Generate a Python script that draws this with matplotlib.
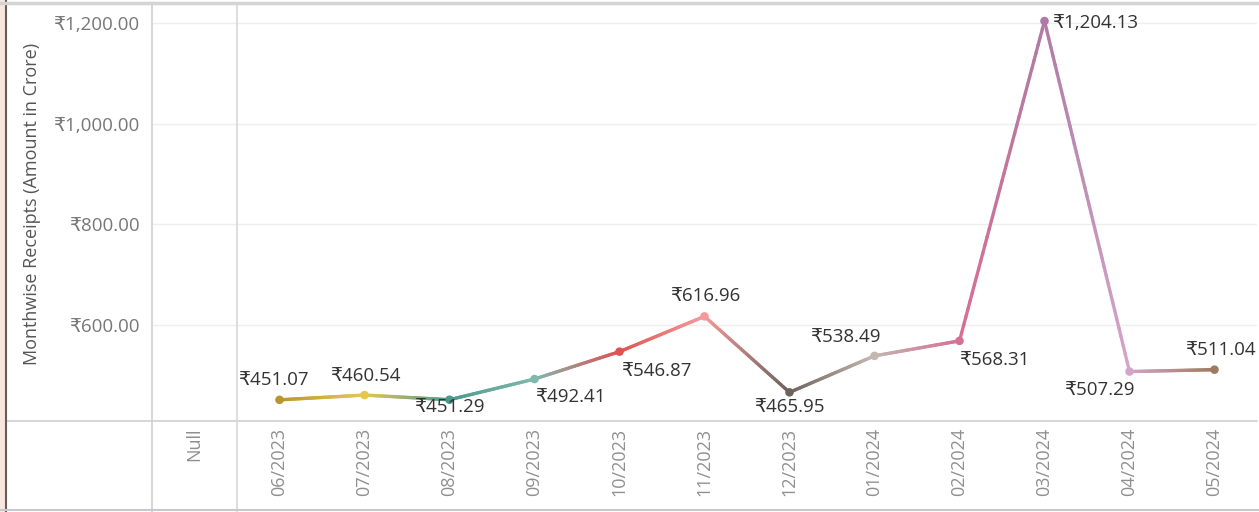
import matplotlib
matplotlib.use("Agg")
from matplotlib import pyplot as plt
from matplotlib.collections import LineCollection
from matplotlib.colors import to_rgb
from matplotlib.lines import Line2D
from matplotlib.patches import Rectangle
import numpy as np

plt.rcParams['font.family'] = ['Open Sans', 'DejaVu Sans']

months = ['06/2023', '07/2023', '08/2023', '09/2023', '10/2023', '11/2023',
          '12/2023', '01/2024', '02/2024', '03/2024', '04/2024', '05/2024']
receipts = [451.07, 460.54, 451.29, 492.41, 546.87, 616.96,
            465.95, 538.49, 568.31, 1204.13, 507.29, 511.04]
colors = ['#b8962e', '#e8c654', '#4a9a8c', '#7fb9ad', '#e05252', '#f59a9a',
          '#6e625c', '#c3b7b0', '#d86f94', '#b07aa6', '#d4a5c9', '#a07a5c']
# label offsets in pixels (dx, dy) and horizontal alignment
offsets = [(-6, 20), (1, 19), (0, -7), (1, -18), (2, -19), (1, 20),
           (0, -15), (-29, 19), (0, -19), (8, -2), (-30, -18), (6, 20)]
aligns = ['center', 'center', 'center', 'left', 'left', 'center',
          'center', 'center', 'left', 'left', 'center', 'center']

fig = plt.figure(figsize=(12.59, 5.12), dpi=100)
ax = fig.add_axes([152/1259, 91/512, 1105/1259, 418/512])

x = np.arange(1, len(months) + 1)
y = np.array(receipts)

# gradient line between neighbouring points
segs = []
cols = []
n = 40
for i in range(len(x) - 1):
    c0 = np.array(to_rgb(colors[i]))
    c1 = np.array(to_rgb(colors[i + 1]))
    xs = np.linspace(x[i], x[i + 1], n + 1)
    ys = np.linspace(y[i], y[i + 1], n + 1)
    for k in range(n):
        segs.append([(xs[k], ys[k]), (xs[k + 1], ys[k + 1])])
        t = (k + 0.5) / n
        cols.append(c0 * (1 - t) + c1 * t)
lc = LineCollection(segs, colors=cols, linewidths=2.4, capstyle='round', zorder=3)
ax.add_collection(lc)
ax.scatter(x, y, s=38, c=colors, zorder=4, linewidths=0)

for xi, yi, (dx, dy), ha in zip(x, y, offsets, aligns):
    ax.annotate('₹{:,.2f}'.format(yi), (xi, yi), xytext=(dx, dy),
                textcoords='offset pixels', ha=ha, va='center',
                fontsize=13.5, color='#333333', zorder=5)

ax.set_xlim(-0.5, 12.5)
ax.set_ylim(409, 1240)
yt = [600, 800, 1000, 1200]
ax.set_yticks(yt)
ax.set_yticklabels(['₹{:,.2f}'.format(v) for v in yt], fontsize=13.5, color='#777777')
ax.set_xticks(np.arange(0, 13))
ax.set_xticklabels(['Null'] + months, rotation=90, fontsize=13, color='#8f8f8f')
ax.tick_params(axis='both', length=0)
ax.tick_params(axis='y', pad=9)
ax.tick_params(axis='x', pad=5)
ax.grid(axis='y', color='#eeeeee', linewidth=1)
ax.set_axisbelow(True)
for s in ['top', 'right', 'left']:
    ax.spines[s].set_visible(False)
ax.spines['bottom'].set_color('#d0d0d0')
ax.spines['bottom'].set_linewidth(1.2)
ax.axvline(0.5, color='#d8d8d8', linewidth=1.2)

ax.set_ylabel('Monthwise Receipts (Amount in Crore)', fontsize=13, color='#555555')
ax.yaxis.set_label_coords(-111/1105, 0.52)

# panel frame lines
fig.add_artist(Line2D([152/1259, 152/1259], [0, 509/512], color='#d0d0d0', lw=1.2))
fig.add_artist(Line2D([237/1259, 237/1259], [0, 91/512], color='#d8d8d8', lw=1.2))
fig.add_artist(Line2D([6/1259, 152/1259], [91/512, 91/512], color='#d0d0d0', lw=1.2))
fig.add_artist(Rectangle((0, 0), 6/1259, 1, color='#f8e7de', lw=0))
fig.add_artist(Line2D([6/1259, 6/1259], [0, 1], color='#6b5a55', lw=1.5))
fig.add_artist(Line2D([0, 1], [509/512, 509/512], color='#d4d4d4', lw=2.5))
fig.add_artist(Line2D([0, 1], [2/512, 2/512], color='#c8c8d0', lw=1.5))

fig.savefig('out.png', dpi=100)
